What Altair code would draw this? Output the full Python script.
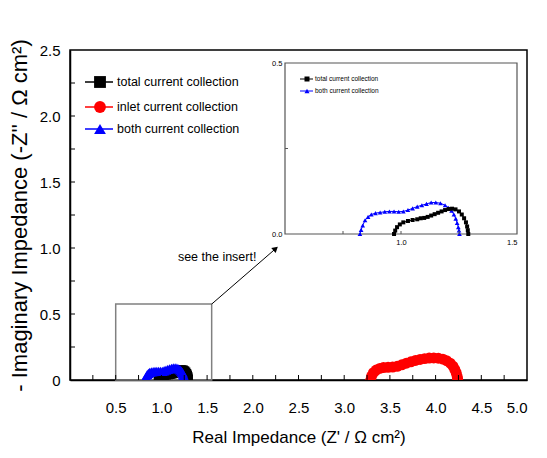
import altair as alt
import pandas as pd

# ---------------- data ----------------
total_x = [0.970, 0.975, 0.983, 0.995, 1.010, 1.030, 1.050, 1.070, 1.085, 1.100, 1.115, 1.130,
           1.145, 1.160, 1.175, 1.190, 1.205, 1.220, 1.235, 1.250, 1.262, 1.272, 1.280, 1.285,
           1.288, 1.290]
total_y = [0.000, 0.010, 0.020, 0.028, 0.034, 0.038, 0.041, 0.043, 0.046, 0.047, 0.050, 0.054,
           0.058, 0.062, 0.066, 0.070, 0.073, 0.074, 0.072, 0.066, 0.057, 0.046, 0.034, 0.022,
           0.011, 0.000]

both_x = [0.823, 0.828, 0.835, 0.845, 0.858, 0.872, 0.890, 0.910, 0.930, 0.950, 0.970, 0.990,
          1.010, 1.030, 1.050, 1.070, 1.090, 1.110, 1.130, 1.150, 1.170, 1.190, 1.205, 1.218,
          1.228, 1.236, 1.242, 1.247, 1.250, 1.252]
both_y = [0.000, 0.012, 0.025, 0.040, 0.050, 0.057, 0.061, 0.063, 0.065, 0.066, 0.066, 0.065,
          0.066, 0.070, 0.075, 0.080, 0.084, 0.088, 0.092, 0.092, 0.090, 0.084, 0.077, 0.068,
          0.057, 0.045, 0.032, 0.020, 0.010, 0.000]

inlet_x = [3.290, 3.300, 3.320, 3.350, 3.390, 3.430, 3.480, 3.530, 3.580, 3.630, 3.680, 3.730,
           3.780, 3.830, 3.880, 3.930, 3.980, 4.030, 4.080, 4.120, 4.160, 4.190, 4.210, 4.225,
           4.235, 4.240, 4.242]
inlet_y = [0.000, 0.030, 0.055, 0.075, 0.088, 0.094, 0.096, 0.098, 0.104, 0.115, 0.127, 0.138,
           0.148, 0.156, 0.162, 0.166, 0.167, 0.165, 0.158, 0.146, 0.128, 0.105, 0.080, 0.055,
           0.030, 0.010, 0.000]

series_names = ["total current collection", "inlet current collection", "both current collection"]

x_label_values = [0.0, 0.5, 1.0, 1.5, 2.0, 2.5, 3.0, 3.5, 4.0, 4.5, 5.0]
y_label_values = [0.0, 0.5, 1.0, 1.5, 2.0, 2.5]
x_minor_ticks = [0.25, 0.5, 0.75, 1.0, 1.25, 1.5, 1.75, 2.0, 2.25, 2.5, 2.75, 3.0, 3.25, 3.5,
                 3.75, 4.0, 4.25, 4.5, 4.75]
y_minor_ticks = [0.25, 0.5, 0.75, 1.0, 1.25, 1.5, 1.75, 2.0, 2.25]

inset_x_labels = [1.0, 1.5]
inset_y_labels = [0.0, 0.5]
inset_x_ticks = [0.75, 1.0, 1.25]
inset_y_ticks = [0.25]

zoom_box = {"x": [0.5], "x2": [1.55], "y": [0.0], "y2": [0.575]}
arrow = {"x": [1.55], "y": [0.575], "x2": [2.25], "y2": [0.995]}
note = {"x": [1.61], "y": [0.93], "label": ["see the insert!"]}
inset_frame = {"x": [0.5], "x2": [1.5], "y": [0.0], "y2": [0.5]}

# ---------------- styling ----------------
FN = "Liberation Sans, Arial, sans-serif"
FR = "Liberation Sans, Arial, sans-serif"
W, H = 457, 330

xs = alt.Scale(domain=[0, 5], nice=False, zero=False)
ys = alt.Scale(domain=[0, 2.5], nice=False, zero=False)
xax = alt.Axis(values=x_label_values, labelExpr="datum.value == 0 ? '' : format(datum.value, '.1f')",
               ticks=False, tickSize=0, grid=False, domainColor="black", domainWidth=1.5,
               labelFont=FN, labelFontSize=15, labelColor="black", labelPadding=20,
               title="Real Impedance (Z' / Ω cm²)", titleFont=FN, titleFontSize=17,
               titleFontWeight="normal", titleColor="black", titlePadding=14)
yax = alt.Axis(values=y_label_values, labelExpr="datum.value == 0 ? '0' : format(datum.value, '.1f')",
               ticks=False, tickSize=0, grid=False, domainColor="black", domainWidth=1.5,
               labelFont=FN, labelFontSize=15, labelColor="black", labelPadding=10,
               title="- Imaginary Impedance (-Z'' / Ω cm²)", titleFont=FR, titleFontSize=22,
               titleFontWeight="normal", titleColor="black", titlePadding=8)

X = lambda f="x": alt.X(f + ":Q", scale=xs, axis=xax)
Y = lambda f="y": alt.Y(f + ":Q", scale=ys, axis=yax)


def df_of(xv, yv):
    return pd.DataFrame({"x": xv, "y": yv, "i": list(range(len(xv)))})


def main_series(xv, yv, color, shape, size):
    base = alt.Chart(df_of(xv, yv))
    line = base.mark_line(color=color, strokeWidth=1.5, clip=True).encode(
        x=X(), y=Y(), order=alt.Order("i:Q"))
    pts = base.mark_point(filled=True, shape=shape, size=size, color=color, opacity=1,
                          clip=True).encode(x=X(), y=Y())
    return [line, pts]


box = alt.Chart(pd.DataFrame(zoom_box)).mark_rect(fillOpacity=0, stroke="#808080",
                                                  strokeWidth=1.5).encode(
    x=X(), x2="x2:Q", y=Y(), y2="y2:Q")
arrow_line = alt.Chart(pd.DataFrame(arrow)).mark_rule(color="black", strokeWidth=1).encode(
    x=X(), x2="x2:Q", y=Y(), y2="y2:Q")
arrow_head = alt.Chart(pd.DataFrame(arrow)).mark_point(shape="triangle-up", filled=True,
                                                       size=45, angle=49, color="black",
                                                       opacity=1).encode(
    x=X("x2"), y=Y("y2"))
note_text = alt.Chart(pd.DataFrame(note)).mark_text(font=FN, fontSize=12.5, color="black",
                                                    align="center", baseline="middle").encode(
    x=X(), y=Y(), text="label:N")
xt = alt.Chart(pd.DataFrame({"x": x_minor_ticks})).mark_rule(color="black", strokeWidth=1).encode(
    x=X(), y=alt.value(H), y2=alt.value(H - 5))
yt = alt.Chart(pd.DataFrame({"y": y_minor_ticks})).mark_rule(color="black", strokeWidth=1).encode(
    y=Y(), x=alt.value(0), x2=alt.value(5))

main = alt.layer(
    box, arrow_line, arrow_head, note_text,
    *main_series(inlet_x, inlet_y, "#ff0000", "circle", 120),
    *main_series(total_x, total_y, "#000000", "square", 100),
    *main_series(both_x, both_y, "#0000ff", "triangle-up", 115),
    xt, yt,
)

# ---------------- inset ----------------
IX0, IX1, IY0, IY1 = 215, 447, 184, 13
xs_in = alt.Scale(domain=[0.5, 1.5], range=[IX0, IX1], nice=False, zero=False)
ys_in = alt.Scale(domain=[0, 0.5], range=[IY0, IY1], nice=False, zero=False)
xax_in = alt.Axis(orient="bottom", offset=IY0 - H, values=inset_x_labels, format=".1f",
                  ticks=False, tickSize=0, domain=False, grid=False, labelFont=FN,
                  labelFontSize=7.5, labelColor="black", labelPadding=4, title=None)
yax_in = alt.Axis(orient="left", offset=-IX0, values=inset_y_labels, format=".1f",
                  ticks=False, tickSize=0, domain=False, grid=False, labelFont=FN,
                  labelFontSize=7.5, labelColor="black", labelPadding=3, title=None)
XI = lambda f="x": alt.X(f + ":Q", scale=xs_in, axis=xax_in)
YI = lambda f="y": alt.Y(f + ":Q", scale=ys_in, axis=yax_in)


def inset_series(xv, yv, color, shape, size):
    base = alt.Chart(df_of(xv, yv))
    line = base.mark_line(color=color, strokeWidth=1).encode(
        x=XI(), y=YI(), order=alt.Order("i:Q"))
    pts = base.mark_point(filled=True, shape=shape, size=size, color=color, opacity=1).encode(
        x=XI(), y=YI())
    return [line, pts]


frame_in = alt.Chart(pd.DataFrame(inset_frame)).mark_rect(fillOpacity=0, stroke="#555555",
                                                          strokeWidth=1.2).encode(
    x=XI(), x2="x2:Q", y=YI(), y2="y2:Q")
xt_in = alt.Chart(pd.DataFrame({"x": inset_x_ticks})).mark_rule(color="#555555").encode(
    x=XI(), y=alt.value(IY0), y2=alt.value(IY0 - 3))
yt_in = alt.Chart(pd.DataFrame({"y": inset_y_ticks})).mark_rule(color="#555555").encode(
    y=YI(), x=alt.value(IX0), x2=alt.value(IX0 + 3))

inset = alt.layer(
    frame_in,
    *inset_series(both_x, both_y, "#0000ff", "triangle-up", 22),
    *inset_series(total_x, total_y, "#000000", "square", 16),
    xt_in, yt_in,
)

# ---------------- legends ----------------
legend_layers = []
main_leg = [(series_names[0], "#000000", "square", 32),
            (series_names[1], "#ff0000", "circle", 57),
            (series_names[2], "#0000ff", "triangle-up", 79)]
for name, color, shape, yy in main_leg:
    d = alt.Chart(pd.DataFrame({"label": [name]}))
    legend_layers.append(d.mark_rule(color=color, strokeWidth=1.5).encode(
        x=alt.value(15), x2=alt.value(43), y=alt.value(yy)))
    legend_layers.append(d.mark_point(filled=True, shape=shape, size=140, color=color,
                                      opacity=1).encode(x=alt.value(30), y=alt.value(yy)))
    legend_layers.append(d.mark_text(font=FN, fontSize=12.5, color="black", align="left",
                                     baseline="middle").encode(
        x=alt.value(47), y=alt.value(yy), text="label:N"))

inset_leg = [(series_names[0], "#000000", "square", 29),
             (series_names[2], "#0000ff", "triangle-up", 41)]
for name, color, shape, yy in inset_leg:
    d = alt.Chart(pd.DataFrame({"label": [name]}))
    legend_layers.append(d.mark_rule(color=color, strokeWidth=1).encode(
        x=alt.value(230), x2=alt.value(243), y=alt.value(yy)))
    legend_layers.append(d.mark_point(filled=True, shape=shape, size=25, color=color,
                                      opacity=1).encode(x=alt.value(237), y=alt.value(yy)))
    legend_layers.append(d.mark_text(font=FN, fontSize=6.5, color="black", align="left",
                                     baseline="middle").encode(
        x=alt.value(245), y=alt.value(yy), text="label:N"))

chart = alt.layer(main, inset, *legend_layers).resolve_scale(
    x="independent", y="independent").resolve_axis(x="independent", y="independent").properties(
    width=W, height=H,
    padding={"left": 62, "top": 42, "right": 12, "bottom": 70},
    autosize=alt.AutoSizeParams(type="none"),
    background="white",
).configure_view(stroke="black", strokeWidth=1.5)

chart.save("out.html", embed_options={"renderer": "svg", "actions": False})
